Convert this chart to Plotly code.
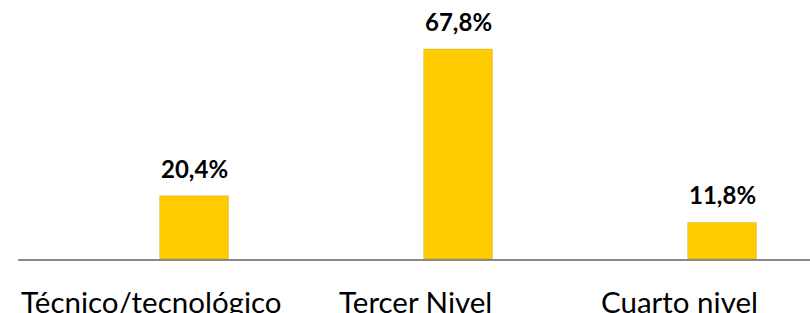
import plotly.graph_objects as go

categories = ["Técnico/tecnológico", "Tercer Nivel", "Cuarto nivel"]
values = [20.4, 67.8, 11.8]
value_labels = ["20,4%", "67,8%", "11,8%"]

FONT = "Lato, Carlito, Calibri, sans-serif"

fig = go.Figure()
fig.add_trace(go.Bar(
    x=categories, y=values,
    width=0.261,
    marker=dict(color="#FFCC00", line=dict(color="rgba(0,0,0,0.10)", width=1)),
    hoverinfo="skip",
))

for c, v, t in zip(categories, values, value_labels):
    fig.add_annotation(x=c, y=v, text="<b>%s</b>" % t, showarrow=False,
                       yanchor="bottom", yshift=11,
                       font=dict(family=FONT, size=24, color="#000000"))
    fig.add_annotation(x=c, y=0, text=c, showarrow=False,
                       yanchor="top", yshift=-23, xshift=-43,
                       font=dict(family=FONT, size=29.5, color="#000000"))

fig.update_layout(
    width=810, height=313,
    margin=dict(l=18, r=0, t=0, b=54),
    paper_bgcolor="white", plot_bgcolor="white",
    showlegend=False,
    xaxis=dict(range=[-0.667, 2.333], showticklabels=False, ticks="",
               showline=True, linecolor="#898989", linewidth=2,
               showgrid=False, zeroline=False, fixedrange=True),
    yaxis=dict(range=[0, 83.6], visible=False, showgrid=False,
               zeroline=False, fixedrange=True),
)

fig.write_html("out.html", config={"displayModeBar": False},
               post_script="document.body.style.margin='0';document.body.style.overflow='hidden';")
